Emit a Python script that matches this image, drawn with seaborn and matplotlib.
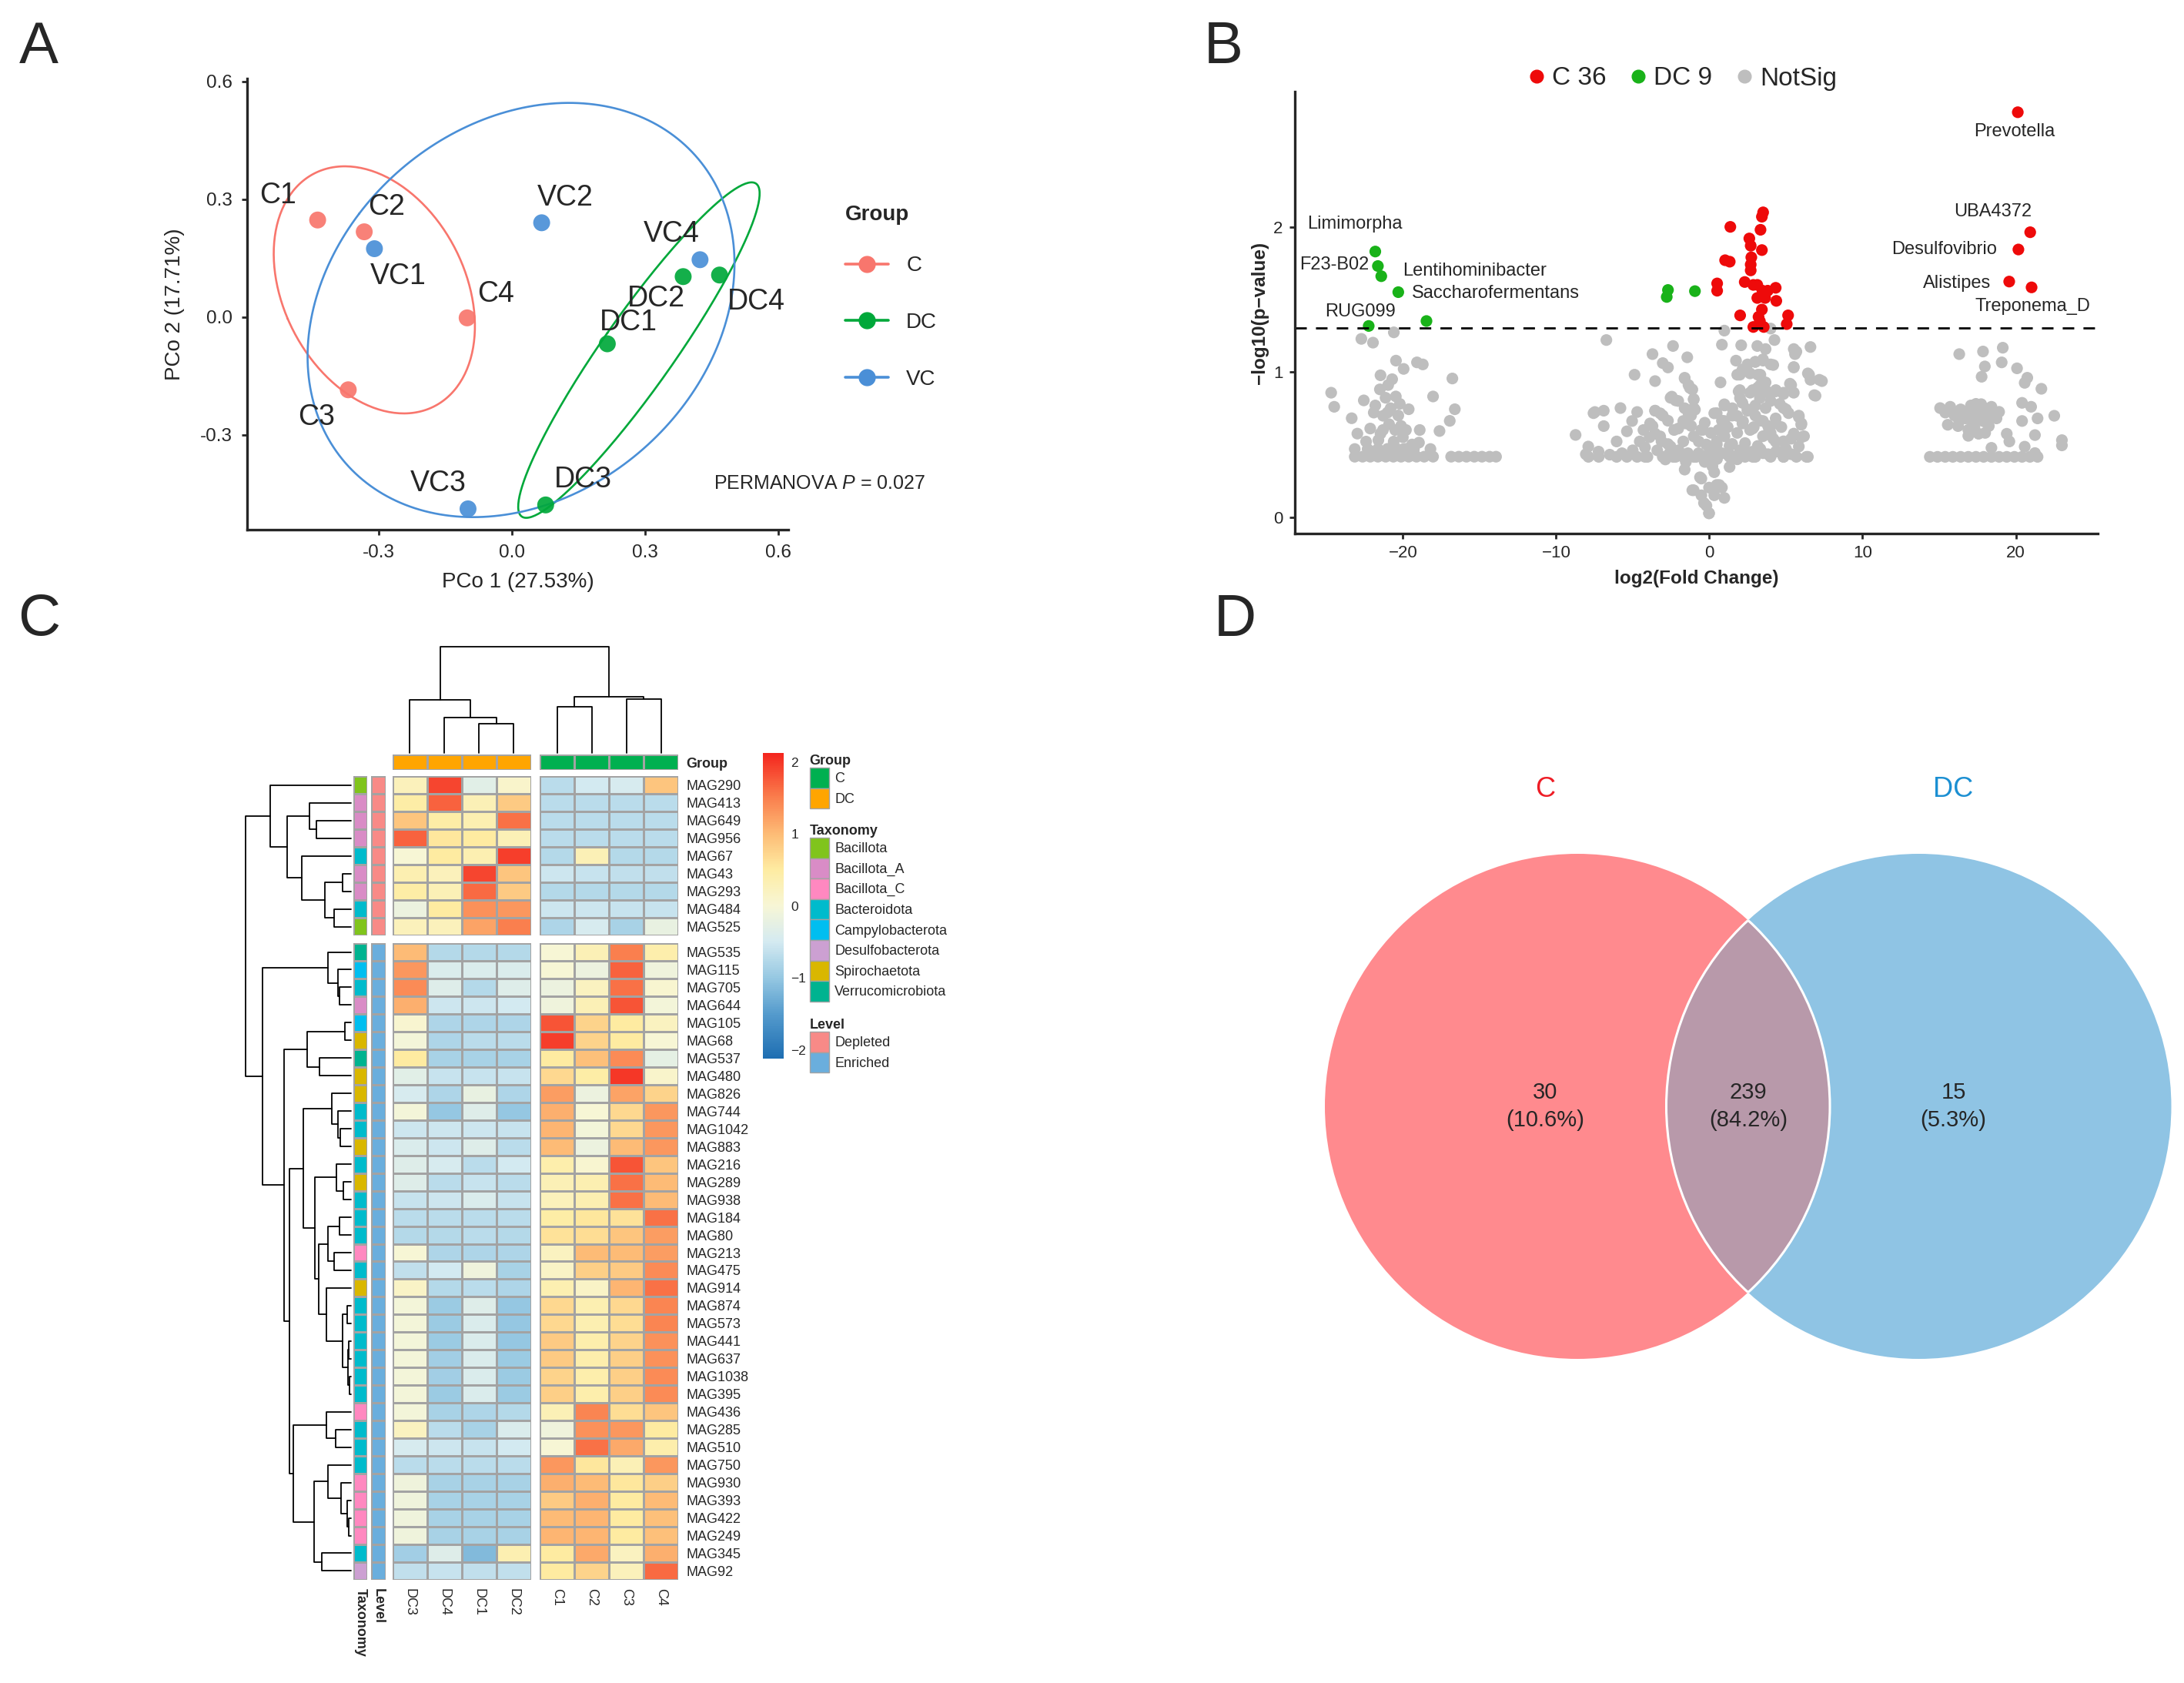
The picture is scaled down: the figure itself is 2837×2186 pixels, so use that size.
import numpy as np
import pandas as pd
import matplotlib
matplotlib.use("Agg")
import matplotlib.pyplot as plt
import seaborn as sns
from matplotlib.lines import Line2D
from matplotlib.patches import Patch, Circle
from matplotlib.colors import ListedColormap, LinearSegmentedColormap
from matplotlib.ticker import FormatStrFormatter

# ---------------- A: PCoA ----------------
pcoa_sample = ["C1", "C2", "C3", "C4", "DC1", "DC2", "DC3", "DC4", "VC1", "VC2", "VC3", "VC4"]
pcoa_group = ["C"] * 4 + ["DC"] * 4 + ["VC"] * 4
pcoa_x = [-0.438, -0.333, -0.369, -0.101, 0.215, 0.386, 0.076, 0.468, -0.310, 0.067, -0.099, 0.424]
pcoa_y = [0.247, 0.217, -0.185, -0.002, -0.068, 0.103, -0.478, 0.107, 0.174, 0.240, -0.488, 0.146]
pcoa_axis = ["PCo 1 (27.53%)", "PCo 2 (17.71%)"]
permanova_p = 0.027

# ---------------- B: volcano ----------------
c_lfc = [20.13, 20.94, 20.17, 19.57, 21.03, 3.51, 3.43, 1.37, 3.34, 2.61, 2.70, 3.43, 1.03, 1.33, 2.74,
         2.70, 2.70, 0.51, 0.51, 2.31, 3.13, 3.47, 4.33, 3.64, 4.37, 3.43, 2.01, 3.21, 5.14, 5.05,
         2.87, 3.55, 3.30, 3.13, 3.81, 2.87]
c_nlp = [2.79, 1.963, 1.844, 1.623, 1.583, 2.10, 2.07, 2.00, 1.98, 1.92, 1.87, 1.84, 1.77, 1.76, 1.79,
         1.74, 1.70, 1.61, 1.56, 1.62, 1.60, 1.56, 1.58, 1.51, 1.49, 1.43, 1.39, 1.38, 1.39, 1.33,
         1.31, 1.31, 1.35, 1.51, 1.56, 1.60]
dc_lfc = [-21.80, -21.63, -21.41, -20.30, -22.23, -18.46, -2.70, -2.78, -0.94]
dc_nlp = [1.83, 1.73, 1.66, 1.55, 1.317, 1.351, 1.565, 1.517, 1.557]
ns_lfc = [
    # left cluster
    -20.59, -22.71, -21.95, -20.45, -19.95, -19.08, -18.70, -16.77, -21.46, -20.96, -24.68, -24.48,
    -23.34, -22.55, -21.80, -21.13, -20.46, -19.62, -18.03, -16.61, -16.94, -17.61, -22.13, -21.29,
    -20.12, -22.97, -21.46, -18.95, -18.20, -18.03,
    -23.14, -22.63, -22.13, -21.63, -21.12, -20.62, -20.12, -19.62, -19.11, -18.61, -16.85, -16.35,
    -15.85, -15.34, -14.84, -14.34, -13.92,
    -23.14, -22.30, -21.63, -20.79, -19.95, -19.28,
    -21.9, -20.8, -20.3, -21.6, -20.6, -20.0, -19.4, -22.4, -20.9, -19.8, -21.5, -20.7,
    -21.0, -20.4, -19.8, -21.3, -20.5, -20.2, -21.0, -22.0, -19.3, -18.9,
    # central cluster
    -8.73, -7.56, -6.89, -6.89, -7.90, -8.06, -7.23, -6.72,
    -2.37, -3.71, -1.44, -3.04, -2.70, -4.88, -3.54, -1.61, -1.36, -1.11, -2.53, -2.20, -1.02,
    0.98, 0.82, 2.08, 3.13, 3.67, 4.25, 4.00, 1.74, 3.00, 3.50, 4.17, 5.51, 6.60, 5.59, 5.51,
    6.43, 6.60, 7.35, 6.93, 5.26, 5.51, 0.73, 1.99, 2.66, 3.33, 3.67, 1.91, 2.66, 3.16, 3.67,
    4.33, 4.84,
    0.98, 0.32, 0.98, 1.82, 2.49, 3.00, 3.67, 3.50, 4.33, 5.00, 5.84, 6.00,
    -0.42, -7.47, -5.80,
    -4.71, -5.04, -5.38, -6.05, -4.54, -3.54, -3.21, -3.71, -3.21, -2.70, -1.70, -1.02, -0.69,
    -1.70, -1.36, -1.02,
    -7.89, -7.22, -6.05, -5.38, -4.71, -4.04, -3.04, -2.37, -1.70, -1.02, 0.32, 1.32, 2.33, 3.00,
    4.00, 4.84, 5.68, 6.43,
    0.49, 1.32, 2.33, 3.16, 4.33, 5.34, 6.00, 4.00, 2.66, 1.82,
    -0.61, -1.11, -0.02, -0.35, -0.02, 0.65, 0.98, 0.32, 1.32,
    0.0, 0.5, -0.3, 0.2, 0.8, 1.5, 2.0, 2.8, 3.5, 0.6, 1.2, 2.2, 2.9, 3.9, 4.7, 4.6, 5.0, 1.5,
    2.0, 3.3, 4.0, 4.6, -0.7, -1.4, -2.0, -2.6, -3.4, -4.2, -5.0, -5.7, -6.5, -3.9, -4.3, -2.3,
    -0.3, 0.1, -0.2,
    -1.61, -1.27, -1.02, -2.45, -2.03, -1.61, -1.19, -0.94,
    -3.54, -3.04, -2.70, -3.87, -3.54, -3.12, -2.53, -2.03, -1.53, -1.19, -0.52,
    -4.20, -2.87, -2.20, -1.53, -0.86, -0.35, -1.61,
    -0.52, -1.02, -0.52, -0.19, -0.02, 0.48, 0.82, 0.32,
    0.48, 0.99, 0.82, 1.49, 0.48, 0.99, 1.49, 0.32, 1.15, 1.82, 2.33, 2.83, 3.33, 3.83, 4.34, 4.84,
    5.34, 5.84, 6.34, 6.18,
    2.16, 2.49, 3.00, 2.16, 2.83, 3.33, 3.83, 4.34, 4.84, 5.17, 5.84, 6.01, 5.51, 4.84, 4.17, 3.50,
    1.82, 2.16, 2.49, 3.00, 3.50, 4.00, 3.17, 3.33, 2.83, 1.99, 3.83, 4.34, 4.84, 5.34, 5.51, 5.68,
    6.51, 7.18, 6.85,
    # right cluster
    16.31, 17.86, 19.15, 17.98, 17.77, 19.08, 20.08, 20.75, 20.58, 21.67, 20.41, 21.00, 22.51,
    23.01, 23.01, 20.41, 21.42, 21.25, 19.41, 19.58, 18.41, 20.58, 21.25,
    15.06, 15.72, 16.40, 17.07, 17.74, 18.41, 18.91, 15.56, 16.23, 16.90, 17.57, 18.24, 18.74,
    17.40, 16.73, 18.07, 17.2, 17.9, 16.4, 17.6, 16.9, 18.0,
    16.0, 16.6, 17.3, 17.7, 18.3, 17.0, 16.3, 17.4, 15.4,
    14.39, 14.89, 15.39, 15.89, 16.40, 16.90, 17.40, 17.90, 18.41, 18.91, 19.41, 19.91, 20.41,
    20.92, 21.42,
]
ns_nlp = [
    1.273, 1.228, 1.202, 1.078, 1.021, 1.066, 1.052, 0.955, 0.977, 0.910, 0.857, 0.760,
    0.681, 0.804, 0.769, 0.822, 0.831, 0.743, 0.831, 0.743, 0.663, 0.593, 0.610, 0.698,
    0.628, 0.575, 0.575, 0.513, 0.469, 0.416,
    0.416, 0.416, 0.416, 0.416, 0.416, 0.416, 0.416, 0.416, 0.416, 0.416, 0.416, 0.416,
    0.416, 0.416, 0.416, 0.416, 0.416,
    0.469, 0.469, 0.469, 0.469, 0.469, 0.469,
    0.72, 0.75, 0.70, 0.53, 0.52, 0.55, 0.50, 0.52, 0.64, 0.60, 0.88, 0.95,
    0.47, 0.47, 0.47, 0.60, 0.60, 0.78, 0.72, 0.45, 0.45, 0.60,
    0.566, 0.716, 0.733, 0.627, 0.486, 0.433, 0.451, 1.220,
    1.179, 1.123, 1.101, 1.061, 1.031, 0.981, 0.937, 0.955, 0.910, 0.879, 0.822, 0.804, 0.813,
    1.285, 1.188, 1.184, 1.179, 1.158, 1.220, 1.299, 1.078, 1.069, 1.078, 1.048, 1.158, 1.172,
    1.123, 1.031, 0.990, 0.946, 0.937, 0.836, 0.919, 0.857, 0.928, 0.981, 0.990, 0.981, 0.928,
    0.866, 0.857, 0.892, 0.875, 0.866, 0.848,
    0.777, 0.715, 0.662, 0.697, 0.742, 0.769, 0.751, 0.662, 0.680, 0.742, 0.689, 0.636,
    0.601, 0.724, 0.751,
    0.724, 0.662, 0.591, 0.521, 0.521, 0.733, 0.715, 0.627, 0.556, 0.503, 0.521, 0.556, 0.521,
    0.662, 0.715, 0.751,
    0.415, 0.415, 0.415, 0.415, 0.415, 0.415, 0.415, 0.415, 0.415, 0.415, 0.415, 0.415, 0.415,
    0.415, 0.415, 0.415, 0.415, 0.415,
    0.50, 0.49, 0.51, 0.49, 0.52, 0.54, 0.55, 0.58, 0.60, 0.58,
    0.274, 0.185, 0.203, 0.097, 0.026, 0.221, 0.132, 0.309, 0.345,
    0.45, 0.40, 0.38, 0.35, 0.44, 0.42, 0.46, 0.45, 0.44, 0.60, 0.62, 0.66, 0.62, 0.60, 0.62,
    0.45, 0.47, 0.75, 0.82, 0.82, 0.80, 0.78, 0.44, 0.44, 0.46, 0.44, 0.46, 0.48, 0.46, 0.44,
    0.43, 0.55, 0.60, 0.60, 0.65, 0.58, 0.50,
    0.96, 0.89, 0.81, 0.83, 0.80, 0.75, 0.70, 0.74,
    0.733, 0.699, 0.664, 0.645, 0.575, 0.522, 0.486, 0.610, 0.645, 0.628, 0.601,
    0.415, 0.397, 0.415, 0.380, 0.415, 0.397, 0.327,
    0.265, 0.185, 0.150, 0.079, 0.026, 0.221, 0.203, 0.150,
    0.716, 0.769, 0.664, 0.699, 0.522, 0.557, 0.504, 0.451, 0.433, 0.398, 0.451, 0.415, 0.469,
    0.433, 0.451, 0.415, 0.433, 0.486, 0.415, 0.557,
    0.787, 0.733, 0.699, 0.645, 0.610, 0.664, 0.628, 0.645, 0.752, 0.716, 0.699, 0.645, 0.575,
    0.522, 0.540, 0.557,
    0.981, 1.017, 1.052, 1.070, 1.087, 1.052, 0.981, 0.910, 0.875, 0.875, 0.857, 0.875, 0.857,
    0.910, 1.034, 1.140, 0.981, 0.946, 0.840,
    1.123, 1.141, 1.167, 1.038, 0.967, 1.066, 1.025, 0.960, 0.925, 0.884, 0.787, 0.760, 0.698,
    0.530, 0.494, 0.662, 0.680, 0.565, 0.574, 0.521, 0.477, 0.485, 0.441,
    0.751, 0.760, 0.742, 0.769, 0.778, 0.760, 0.725, 0.636, 0.627, 0.601, 0.574, 0.627, 0.680,
    0.698, 0.680, 0.716, 0.65, 0.66, 0.70, 0.73, 0.56, 0.58,
    0.70, 0.72, 0.62, 0.68, 0.70, 0.72, 0.66, 0.78, 0.72,
    0.415, 0.415, 0.415, 0.415, 0.415, 0.415, 0.415, 0.415, 0.415, 0.415, 0.415, 0.415, 0.415,
    0.415, 0.415,
]
# labelled genera: (name, group, index in that group's lists)
volc_labels = [("Prevotella", "C", 0), ("UBA4372", "C", 1), ("Desulfovibrio", "C", 2),
               ("Alistipes", "C", 3), ("Treponema_D", "C", 4), ("Limimorpha", "DC", 0),
               ("F23-B02", "DC", 1), ("Lentihominibacter", "DC", 2),
               ("Saccharofermentans", "DC", 3), ("RUG099", "DC", 4)]
p_cut = 0.05

# ---------------- C: heatmap ----------------
sample_cols = ["DC3", "DC4", "DC1", "DC2", "C1", "C2", "C3", "C4"]
col_group = ["DC"] * 4 + ["C"] * 4
mag_names = ["MAG290", "MAG413", "MAG649", "MAG956", "MAG67", "MAG43", "MAG293", "MAG484", "MAG525",
             "MAG535", "MAG115", "MAG705", "MAG644", "MAG105", "MAG68", "MAG537", "MAG480", "MAG826",
             "MAG744", "MAG1042", "MAG883", "MAG216", "MAG289", "MAG938", "MAG184", "MAG80", "MAG213",
             "MAG475", "MAG914", "MAG874", "MAG573", "MAG441", "MAG637", "MAG1038", "MAG395",
             "MAG436", "MAG285", "MAG510", "MAG750", "MAG930", "MAG393", "MAG422", "MAG249",
             "MAG345", "MAG92"]
taxonomy = ["Bacillota", "Bacillota_A", "Bacillota_A", "Bacillota_A", "Bacteroidota", "Bacillota_A",
            "Bacillota_A", "Bacteroidota", "Bacillota", "Verrucomicrobiota", "Campylobacterota",
            "Bacteroidota", "Bacillota_A", "Campylobacterota", "Spirochaetota", "Verrucomicrobiota",
            "Spirochaetota", "Spirochaetota", "Bacteroidota", "Bacteroidota", "Spirochaetota",
            "Bacteroidota", "Spirochaetota", "Bacteroidota", "Bacteroidota", "Bacteroidota",
            "Bacillota_C", "Bacteroidota", "Spirochaetota", "Bacteroidota", "Bacteroidota",
            "Bacteroidota", "Bacteroidota", "Bacteroidota", "Bacteroidota", "Bacillota_C",
            "Bacteroidota", "Bacteroidota", "Bacteroidota", "Bacillota_C", "Bacillota_C",
            "Bacillota_C", "Bacillota_C", "Bacteroidota", "Desulfobacterota"]
level = ["Depleted"] * 9 + ["Enriched"] * 36
heat_values = [
    [0.25, 1.90, -0.30, 0.10, -0.70, -0.50, -0.45, 0.90],
    [0.45, 1.70, 0.30, 0.85, -0.70, -0.70, -0.70, -0.70],
    [0.90, 0.45, 0.35, 1.60, -0.70, -0.70, -0.70, -0.70],
    [1.70, 0.55, 0.50, 0.30, -0.70, -0.70, -0.70, -0.70],
    [0.00, 0.50, 0.35, 1.95, -0.75, 0.30, -0.75, -0.75],
    [0.35, 0.25, 1.90, 0.90, -0.55, -0.60, -0.65, -0.65],
    [0.45, 0.30, 1.65, 0.85, -0.75, -0.75, -0.75, -0.75],
    [-0.15, 0.50, 1.35, 1.30, -0.55, -0.55, -0.60, -0.60],
    [0.25, 0.25, 1.20, 1.50, -0.80, -0.45, -0.85, -0.20],
    [1.00, -0.75, -0.75, -0.75, 0.00, 0.30, 1.50, 0.40],
    [1.30, -0.40, -0.40, -0.40, 0.00, -0.15, 1.70, -0.10],
    [1.40, -0.35, -0.75, -0.35, -0.15, 0.20, 1.60, 0.05],
    [1.10, -0.55, -0.55, -0.50, -0.10, 0.30, 1.80, -0.05],
    [0.05, -0.80, -0.80, -0.80, 1.80, 0.75, 0.50, 0.20],
    [-0.05, -0.80, -0.70, -0.70, 1.95, 0.75, 0.50, 0.00],
    [0.50, -0.85, -0.85, -0.85, 0.50, 0.95, 1.40, -0.25],
    [-0.30, -0.60, -0.60, -0.60, 0.70, 0.45, 2.00, 0.10],
    [-0.45, -0.80, -0.20, -0.80, 1.25, -0.15, 1.20, 0.75],
    [-0.05, -1.00, -0.35, -1.00, 1.10, 0.00, 0.70, 1.30],
    [-0.55, -0.55, -0.55, -0.60, 1.05, -0.05, 0.70, 1.30],
    [-0.40, -0.55, -0.35, -0.70, 1.00, -0.15, 1.00, 1.30],
    [-0.35, -0.45, -0.70, -0.50, 0.40, 0.05, 1.80, 0.90],
    [-0.35, -0.70, -0.60, -0.70, 0.30, 0.35, 1.60, 1.00],
    [-0.60, -0.55, -0.40, -0.60, 0.25, 0.35, 1.60, 1.00],
    [-0.70, -0.70, -0.70, -0.70, 0.45, 0.55, 0.60, 1.60],
    [-0.75, -0.75, -0.70, -0.75, 0.60, 0.65, 0.90, 1.25],
    [0.00, -0.80, -0.80, -0.80, 0.20, 1.00, 1.00, 1.25],
    [-0.65, -0.50, -0.10, -0.85, 0.15, 0.80, 0.85, 1.40],
    [0.15, -0.75, -0.70, -0.80, 0.35, 0.15, 1.05, 1.60],
    [-0.05, -0.95, -0.35, -1.00, 0.70, 0.35, 0.70, 1.45],
    [-0.05, -0.95, -0.40, -1.00, 0.70, 0.35, 0.65, 1.45],
    [-0.05, -0.95, -0.40, -1.00, 0.85, 0.40, 0.75, 1.35],
    [-0.05, -0.90, -0.40, -0.95, 0.85, 0.40, 0.80, 1.35],
    [-0.05, -0.90, -0.40, -0.95, 0.75, 0.40, 0.80, 1.40],
    [-0.05, -0.95, -0.40, -0.95, 0.80, 0.40, 0.80, 1.40],
    [-0.05, -0.85, -0.80, -0.75, 0.30, 1.45, 0.65, 0.90],
    [0.20, -0.70, -0.85, -0.40, -0.10, 1.35, 1.30, 0.50],
    [-0.45, -0.55, -0.60, -0.50, 0.00, 1.60, 1.15, 0.40],
    [-0.70, -0.70, -0.70, -0.70, 1.30, 0.55, 0.30, 1.30],
    [-0.10, -0.85, -0.85, -0.85, 1.10, 1.00, 0.55, 0.80],
    [-0.10, -0.85, -0.85, -0.85, 0.85, 1.10, 0.50, 1.00],
    [-0.10, -0.85, -0.85, -0.85, 1.00, 1.05, 0.50, 0.95],
    [-0.10, -0.85, -0.85, -0.85, 1.05, 1.05, 0.50, 0.95],
    [-0.90, -0.35, -1.15, 0.35, 0.50, 1.15, 0.20, 1.10],
    [-0.65, -0.60, -0.65, -0.65, 0.50, 0.75, 0.25, 1.65],
]
# hierarchical clustering: (child, child, height); new ids follow leaves
row_merges = [
    (2, 3, 44.6), (1, 45, 54.2), (5, 6, 10.8), (7, 8, 22.3), (47, 48, 33.8), (4, 49, 63.8),
    (46, 50, 82.9), (0, 51, 105.2), (11, 12, 14.7), (10, 53, 17.0), (9, 54, 30.4), (13, 14, 8.0),
    (15, 16, 41.5), (56, 57, 57.0), (19, 20, 14.0), (18, 59, 17.3), (17, 60, 25.0), (22, 23, 10.0),
    (21, 62, 19.3), (24, 25, 15.0), (26, 27, 21.7), (64, 65, 30.0), (29, 30, 5.0), (31, 32, 3.0),
    (33, 34, 2.0), (68, 69, 4.0), (67, 70, 11.0), (28, 71, 31.7), (66, 72, 41.7), (63, 73, 46.7),
    (61, 74, 61.7), (36, 37, 20.0), (35, 76, 31.7), (41, 42, 3.0), (40, 78, 5.0), (39, 79, 12.7),
    (38, 80, 30.0), (43, 44, 38.3), (81, 82, 48.3), (77, 83, 75.0), (75, 84, 80.0), (58, 85, 86.7),
    (55, 86, 115.0), (52, 87, 137.0),
]
col_merges = [(2, 3, 38.3), (1, 8, 46.7), (0, 9, 69.0), (4, 5, 60.0), (6, 7, 70.0),
              (11, 12, 73.3), (10, 13, 138.3)]

# ---------------- D: Venn ----------------
venn_sets = ["C", "DC"]
venn_counts = [30, 239, 15]   # C only, shared, DC only

# ---------------- style ----------------
group_pal = {"C": "#F8766D", "DC": "#00A83A", "VC": "#4A8FD7"}
volc_pal = {"C": "#EE0A0A", "DC": "#19B219", "NotSig": "#BEBEBE"}
tax_order = ["Bacillota", "Bacillota_A", "Bacillota_C", "Bacteroidota", "Campylobacterota",
             "Desulfobacterota", "Spirochaetota", "Verrucomicrobiota"]
tax_colors = ["#80C41C", "#D98CC6", "#FF88C0", "#00BBCC", "#00BEF0", "#CCA0D2", "#D9B700", "#00B390"]
grp_order = ["C", "DC"]
grp_colors = ["#00B050", "#FFA500"]
lvl_order = ["Depleted", "Enriched"]
lvl_colors = ["#F88A87", "#6AAEDD"]
heat_stops = [(-2.12, "#1E6EB2"), (-1.5, "#559BCD"), (-1.0, "#96C8E2"), (-0.5, "#D4EAF1"),
              (0.0, "#F7F6D6"), (0.5, "#FEECA2"), (1.0, "#FDBC76"), (1.5, "#FA804E"),
              (2.12, "#F4261E")]
grid_col = "#A3A3A3"

sns.set_style("ticks")
plt.rcParams["font.family"] = ["Liberation Sans", "DejaVu Sans"]
plt.rcParams["mathtext.fontset"] = "custom"
plt.rcParams["mathtext.rm"] = "Liberation Sans"
plt.rcParams["mathtext.it"] = "Liberation Sans:italic"

W, H = 2837, 2186
fig = plt.figure(figsize=(W / 100, H / 100), dpi=100)


def box(x0, y0, x1, y1):
    # pixel rectangle of the page -> figure fraction
    return [x0 / W, 1 - y1 / H, (x1 - x0) / W, (y1 - y0) / H]


def ellipse_xy(x, y, level_=0.7, n=240):
    pts = np.column_stack([x, y])
    mu = pts.mean(axis=0)
    vals, vecs = np.linalg.eigh(np.cov(pts, rowvar=False))
    r = np.sqrt(-2 * np.log(1 - level_))
    t = np.linspace(0, 2 * np.pi, n)
    circ = np.column_stack([np.cos(t), np.sin(t)]) * np.sqrt(vals)
    return (mu + r * circ @ vecs.T).T


def draw_tree(ax, merges, leaf_pos, horizontal):
    pos = list(leaf_pos)
    hgt = [0.0] * len(leaf_pos)
    for a, b, h in merges:
        p = [pos[a], pos[a], pos[b], pos[b]]
        q = [hgt[a], h, h, hgt[b]]
        if horizontal:
            ax.plot(q, p, color="black", lw=1.3, clip_on=False)
        else:
            ax.plot(p, q, color="black", lw=1.3, clip_on=False)
        pos.append((pos[a] + pos[b]) / 2)
        hgt.append(h)


# ======== panel A ========
axA = fig.add_axes(box(321, 102, 1024, 688))
dfA = pd.DataFrame({"sample": pcoa_sample, "group": pcoa_group, "x": pcoa_x, "y": pcoa_y})
for g in ["C", "DC", "VC"]:
    sub = dfA[dfA["group"] == g]
    ex, ey = ellipse_xy(sub["x"].values, sub["y"].values)
    axA.plot(ex, ey, color=group_pal[g], lw=1.9)
sns.scatterplot(data=dfA, x="x", y="y", hue="group", palette=group_pal, s=250, linewidth=0,
                alpha=0.92, legend=False, ax=axA, zorder=3)
lab_off = {"C1": (-37, 23), "C2": (21, 23), "C3": (-30, -26), "C4": (27, 22),
           "DC1": (20, 20), "DC2": (-25, -21), "DC3": (35, 24), "DC4": (34, -25),
           "VC1": (22, -26), "VC2": (22, 23), "VC3": (-28, 24), "VC4": (-27, 24)}
for s, x, y in zip(dfA["sample"], dfA["x"], dfA["y"]):
    axA.annotate(s, (x, y), xytext=lab_off[s], textcoords="offset points",
                 ha="center", va="center", fontsize=27)
axA.set_xlim(-0.597, 0.623)
axA.set_ylim(-0.541, 0.607)
axA.set_xticks([-0.3, 0.0, 0.3, 0.6])
axA.set_yticks([-0.3, 0.0, 0.3, 0.6])
axA.xaxis.set_major_formatter(FormatStrFormatter("%.1f"))
axA.yaxis.set_major_formatter(FormatStrFormatter("%.1f"))
axA.tick_params(labelsize=17.5, width=2, length=5, pad=9)
axA.set_xlabel(pcoa_axis[0], fontsize=20, labelpad=10)
axA.set_ylabel(pcoa_axis[1], fontsize=20, labelpad=14)
for sp in ["left", "bottom"]:
    axA.spines[sp].set_linewidth(2.4)
sns.despine(ax=axA)
axA.text(0.693, -0.423, r"PERMANOVA $\it{P}$ = " + f"{permanova_p:.3f}", fontsize=18,
         ha="center", va="center", clip_on=False)
hA = [Line2D([0], [0], color=group_pal[g], lw=2.6, marker="o", markersize=15) for g in ["C", "DC", "VC"]]
legA = axA.legend(hA, ["C", "DC", "VC"], title="Group", loc="upper left",
                  bbox_to_anchor=(1098 / W, 1 - 266 / H), bbox_transform=fig.transFigure,
                  frameon=False, fontsize=20, title_fontproperties={"weight": "bold", "size": 20},
                  labelspacing=1.72, handlelength=2.0, handletextpad=0.85, borderpad=0,
                  borderaxespad=0, alignment="left")
legA._legend_box.sep = 29  # title sits a little closer to the keys

# ======== panel B ========
axB = fig.add_axes(box(1681.6, 119.4, 2725, 692.5))
dfB = pd.concat([
    pd.DataFrame({"lfc": ns_lfc, "nlp": ns_nlp, "sig": "NotSig"}),
    pd.DataFrame({"lfc": dc_lfc, "nlp": dc_nlp, "sig": "DC"}),
    pd.DataFrame({"lfc": c_lfc, "nlp": c_nlp, "sig": "C"}),
], ignore_index=True)
sns.scatterplot(data=dfB, x="lfc", y="nlp", hue="sig", hue_order=["NotSig", "DC", "C"],
                palette=volc_pal, s=120, linewidth=0, legend=False, ax=axB)
axB.axhline(-np.log10(p_cut), color="black", lw=2.0, ls=(0, (5.4, 4.3)))
lab_pts = {"C": (c_lfc, c_nlp), "DC": (dc_lfc, dc_nlp)}
volc_off = {"Prevotella": (-3, -18), "UBA4372": (-35, 19), "Desulfovibrio": (-69, 0),
            "Alistipes": (-49, -2), "Treponema_D": (1, -18), "Limimorpha": (-19, 26),
            "F23-B02": (-41, 1), "Lentihominibacter": (87, 5), "Saccharofermentans": (91, -1),
            "RUG099": (-8, 13)}
for name, g, i in volc_labels:
    px, py = lab_pts[g][0][i], lab_pts[g][1][i]
    axB.annotate(name, (px, py), xytext=volc_off[name], textcoords="offset points",
                 ha="center", va="center", fontsize=17)
axB.set_xlim(-27.07, 25.35)
axB.set_ylim(-0.111, 2.93)
axB.set_xticks([-20, -10, 0, 10, 20])
axB.set_yticks([0, 1, 2])
axB.tick_params(labelsize=16, width=2, length=5, pad=6)
axB.set_xlabel("log2(Fold Change)", fontsize=17.5, fontweight="bold", labelpad=8)
axB.set_ylabel("\u2212log10(p\u2212value)", fontsize=17.5, fontweight="bold", labelpad=4)
for sp in ["left", "bottom"]:
    axB.spines[sp].set_linewidth(2.4)
sns.despine(ax=axB)
hB = [Line2D([0], [0], marker="o", ls="", color=volc_pal[k], markersize=12) for k in ["C", "DC", "NotSig"]]
axB.legend(hB, [f"C {len(c_lfc)}", f"DC {len(dc_lfc)}", "NotSig"], loc="center",
           bbox_to_anchor=((2185 - 1681.6) / 1043.4, 1 + (119.4 - 102) / 573.1), ncol=3,
           frameon=False, fontsize=24, handlelength=0.7, handletextpad=0.25, columnspacing=0.9,
           borderpad=0)

# ======== panel C ========
heat = pd.DataFrame(heat_values, index=mag_names, columns=sample_cols)
n_top = level.count("Depleted")
n_row = len(mag_names)
heat_top, heat_left = 1008.3, 509.6
cell_h, cell_w = 22.97, 45.1
row_gap, col_gap = 10, 11
vlim = 2.12
cmap_heat = LinearSegmentedColormap.from_list(
    "heat", [((v + vlim) / (2 * vlim), c) for v, c in heat_stops])

row_blocks = [(0, n_top), (n_top, n_row)]
col_blocks = [(0, 4), (4, 8)]
cax = fig.add_axes(box(990.7, 978.3, 1017.7, 1375))

for i, (rs, re) in enumerate(row_blocks):
    y0 = heat_top + rs * cell_h + i * row_gap
    y1 = heat_top + re * cell_h + i * row_gap
    for j, (cs, ce) in enumerate(col_blocks):
        x0 = heat_left + cs * cell_w + j * col_gap
        x1 = heat_left + ce * cell_w + j * col_gap
        ax = fig.add_axes(box(x0, y0, x1, y1))
        first = (i == 0 and j == 0)
        sns.heatmap(heat.iloc[rs:re, cs:ce], ax=ax, cmap=cmap_heat, vmin=-vlim, vmax=vlim,
                    linewidths=1, linecolor=grid_col, cbar=first, cbar_ax=cax if first else None,
                    xticklabels=(i == 1), yticklabels=(j == 1))
        ax.set_xlabel("")
        ax.set_ylabel("")
        if j == 1:
            ax.yaxis.tick_right()
            ax.tick_params(axis="y", length=0, pad=7, labelsize=13, labelrotation=0)
        if i == 1:
            ax.tick_params(axis="x", length=0, pad=8, labelsize=13, labelrotation=270)
        if first:
            cbar = ax.collections[0].colorbar
            cbar.set_ticks([-2, -1, 0, 1, 2])
            cbar.outline.set_visible(False)
            cbar.ax.tick_params(length=0, labelsize=12.5, pad=7)

    # row annotations
    tax_codes = pd.DataFrame({"Taxonomy": [tax_order.index(t) for t in taxonomy[rs:re]]})
    lvl_codes = pd.DataFrame({"Level": [lvl_order.index(t) for t in level[rs:re]]})
    for df_ann, pal, (ax0, ax1) in [(tax_codes, tax_colors, (458.5, 477)),
                                    (lvl_codes, lvl_colors, (482, 501.3))]:
        ax = fig.add_axes(box(ax0, y0, ax1, y1))
        sns.heatmap(df_ann, ax=ax, cmap=ListedColormap(pal), vmin=-0.5, vmax=len(pal) - 0.5,
                    linewidths=1, linecolor=grid_col, cbar=False, yticklabels=False,
                    xticklabels=(i == 1))
        if i == 1:
            ax.tick_params(axis="x", length=0, pad=8, labelsize=13, labelrotation=270)
            for t in ax.get_xticklabels():
                t.set_fontweight("bold")

# column annotation
for j, (cs, ce) in enumerate(col_blocks):
    x0 = heat_left + cs * cell_w + j * col_gap
    x1 = heat_left + ce * cell_w + j * col_gap
    ax = fig.add_axes(box(x0, 980.5, x1, 1000))
    codes = pd.DataFrame([[grp_order.index(g) for g in col_group[cs:ce]]], index=["Group"])
    sns.heatmap(codes, ax=ax, cmap=ListedColormap(grp_colors), vmin=-0.5, vmax=1.5,
                linewidths=1, linecolor=grid_col, cbar=False, xticklabels=False,
                yticklabels=(j == 1))
    if j == 1:
        ax.yaxis.tick_right()
        ax.tick_params(axis="y", length=0, pad=7, labelsize=13, labelrotation=0)
        for t in ax.get_yticklabels():
            t.set_fontweight("bold")

# dendrograms
row_pos = [heat_top + (k + 0.5) * cell_h + (row_gap if k >= n_top else 0) for k in range(n_row)]
col_pos = [heat_left + (k + 0.5) * cell_w + (col_gap if k >= 4 else 0) for k in range(8)]
axR = fig.add_axes(box(300, heat_top, 456, row_pos[-1] + cell_h / 2))
draw_tree(axR, row_merges, row_pos, horizontal=True)
axR.set_xlim(156, 0)
axR.set_ylim(row_pos[-1] + cell_h / 2, heat_top)
axR.axis("off")
axT = fig.add_axes(box(heat_left, 840, col_pos[-1] + cell_w / 2, 978.3))
draw_tree(axT, col_merges, col_pos, horizontal=False)
axT.set_xlim(heat_left, col_pos[-1] + cell_w / 2)
axT.set_ylim(0, 138.3)
axT.axis("off")

# annotation legends
leg_kw = dict(loc="upper left", frameon=False, fontsize=13, handlelength=1.4, handleheight=1.89,
              labelspacing=0, handletextpad=0.4, borderpad=0, borderaxespad=0, alignment="left",
              title_fontproperties={"weight": "bold", "size": 13})
for title, names, cols, top in [("Group", grp_order, grp_colors, 980),
                                ("Taxonomy", tax_order, tax_colors, 1071),
                                ("Level", lvl_order, lvl_colors, 1323)]:
    hands = [Patch(facecolor=c, edgecolor=grid_col, lw=1) for c in cols]
    fig.legend(hands, names, title=title, bbox_to_anchor=(1051.7 / W, 1 - top / H), **leg_kw)

# ======== panel D ========
axD = fig.add_axes(box(1680, 960, 2837, 1800))
axD.set_xlim(1680, 2837)
axD.set_ylim(1800, 960)
axD.axis("off")
venn_r, venn_cy = 328, 1437
venn_cx = [2049, 2492.5]
venn_fill = ["#FF8A8E", "#8FC4E4"]
venn_text = ["#EE1C25", "#1B8FD2"]
for cx, fc in zip(venn_cx, venn_fill):
    axD.add_patch(Circle((cx, venn_cy), venn_r, fc=fc, ec="none"))
lens = Circle((venn_cx[0], venn_cy), venn_r, fc="#B899AA", ec="none")
axD.add_patch(lens)
lens.set_clip_path(Circle((venn_cx[1], venn_cy), venn_r, transform=axD.transData))
for k in range(2):
    edge = Circle((venn_cx[k], venn_cy), venn_r, fc="none", ec="white", lw=2.2)
    axD.add_patch(edge)
    edge.set_clip_path(Circle((venn_cx[1 - k], venn_cy), venn_r, transform=axD.transData))
total = sum(venn_counts)
txt_x = [venn_cx[0] - 42, (venn_cx[0] + venn_cx[1]) / 2, venn_cx[1] + 45]
for x, n in zip(txt_x, venn_counts):
    axD.text(x, venn_cy, f"{n}\n({100 * n / total:.1f}%)", ha="center", va="center",
             fontsize=21, linespacing=1.35)
for k, name in enumerate(venn_sets):
    axD.text(txt_x[0] if k == 0 else txt_x[2], 1026, name, ha="center", va="center",
             fontsize=26, color=venn_text[k])

# panel letters
for letter, (x, y) in zip("ABCD", [(50, 62), (1589, 62), (51, 805), (1604, 806)]):
    fig.text(x / W, 1 - y / H, letter, fontsize=55, ha="center", va="center")

fig.savefig("out.png", dpi=100)
